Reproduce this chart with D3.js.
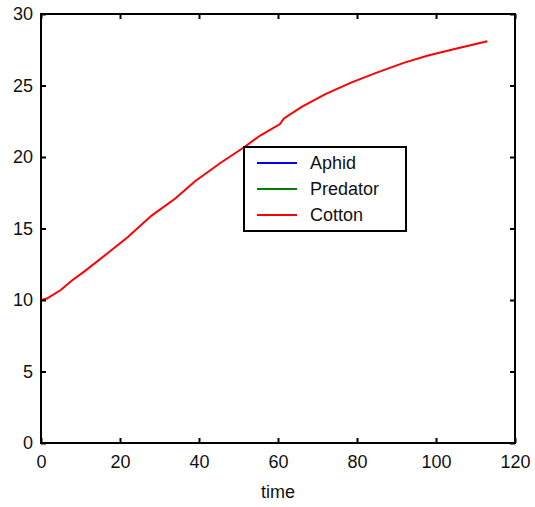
<!DOCTYPE html>
<html>
<head>
<meta charset="utf-8">
<script src="https://cdn.jsdelivr.net/npm/d3@7"></script>
<style>
  body { margin: 0; background: #fff; }
  text { font-family: "Liberation Sans", Arial, sans-serif; fill: #111; }
</style>
</head>
<body>
<svg width="535" height="507"></svg>
<script>
const time = [0, 1.5, 5, 8, 11, 17, 22, 28, 34, 39, 45.5, 51.5, 55.5, 60.5, 61.5, 66, 72, 78.5, 85, 92, 98, 105.5, 113];
const cotton = [10.0, 10.1, 10.7, 11.4, 12.0, 13.3, 14.4, 15.9, 17.1, 18.3, 19.6, 20.7, 21.5, 22.3, 22.7, 23.5, 24.4, 25.2, 25.9, 26.6, 27.1, 27.6, 28.1];
const aphid = time.map(() => 0);
const predator = time.map(() => 0);
const xTicks = [0, 20, 40, 60, 80, 100, 120];
const yTicks = [0, 5, 10, 15, 20, 25, 30];
const seriesNames = ["Aphid", "Predator", "Cotton"];
const seriesColors = ["#0000ff", "#008000", "#ff0000"];

const svg = d3.select("svg"),
    margin = {top: 14, right: 20, bottom: 64, left: 41},
    width = +svg.attr("width") - margin.left - margin.right,
    height = +svg.attr("height") - margin.top - margin.bottom;

const g = svg.append("g")
    .attr("transform", `translate(${margin.left},${margin.top})`);

const x = d3.scaleLinear().domain([0, 120]).range([0, width]);
const y = d3.scaleLinear().domain([0, 30]).range([height, 0]);

const line = d3.line().x((d, i) => x(time[i])).y(d => y(d));

// series: aphid, predator (drawn over), cotton
[aphid, predator, cotton].forEach((vals, i) => {
    g.append("path")
        .datum(vals)
        .attr("fill", "none")
        .attr("stroke", seriesColors[i])
        .attr("stroke-width", 2)
        .attr("d", line);
});

// axes with inward ticks
const fontSize = 18;
g.append("g")
    .attr("transform", `translate(0,${height})`)
    .call(d3.axisBottom(x).tickValues(xTicks).tickSizeInner(-5).tickSizeOuter(0).tickPadding(12))
    .call(a => a.select(".domain").remove())
    .call(a => a.selectAll("text").attr("font-size", fontSize).attr("font-family", "Liberation Sans, Arial, sans-serif"));

g.append("g")
    .call(d3.axisLeft(y).tickValues(yTicks).tickSizeInner(-5).tickSizeOuter(0).tickPadding(8))
    .call(a => a.select(".domain").remove())
    .call(a => a.selectAll("text").attr("font-size", fontSize).attr("font-family", "Liberation Sans, Arial, sans-serif"));

g.append("g")
    .call(d3.axisTop(x).tickValues(xTicks).tickSizeInner(-5).tickSizeOuter(0).tickFormat(""))
    .call(a => a.select(".domain").remove());

g.append("g")
    .attr("transform", `translate(${width},0)`)
    .call(d3.axisRight(y).tickValues(yTicks).tickSizeInner(-5).tickSizeOuter(0).tickFormat(""))
    .call(a => a.select(".domain").remove());

g.selectAll(".tick line").attr("stroke", "#000").attr("stroke-width", 2);

// frame
g.append("rect")
    .attr("width", width)
    .attr("height", height)
    .attr("fill", "none")
    .attr("stroke", "#000")
    .attr("stroke-width", 2);

// x label
svg.append("text")
    .attr("x", margin.left + width / 2)
    .attr("y", 498)
    .attr("text-anchor", "middle")
    .attr("font-size", fontSize)
    .text("time");

// legend
const lg = svg.append("g").attr("transform", "translate(244,147)");
lg.append("rect")
    .attr("width", 162)
    .attr("height", 84)
    .attr("fill", "#fff")
    .attr("stroke", "#000")
    .attr("stroke-width", 2);
seriesNames.forEach((name, i) => {
    const yy = 16 + i * 26;
    lg.append("line")
        .attr("x1", 13).attr("x2", 53)
        .attr("y1", yy).attr("y2", yy)
        .attr("stroke", seriesColors[i])
        .attr("stroke-width", 2);
    lg.append("text")
        .attr("x", 66)
        .attr("y", yy)
        .attr("dy", "0.35em")
        .attr("font-size", fontSize)
        .text(name);
});
</script>
</body>
</html>
